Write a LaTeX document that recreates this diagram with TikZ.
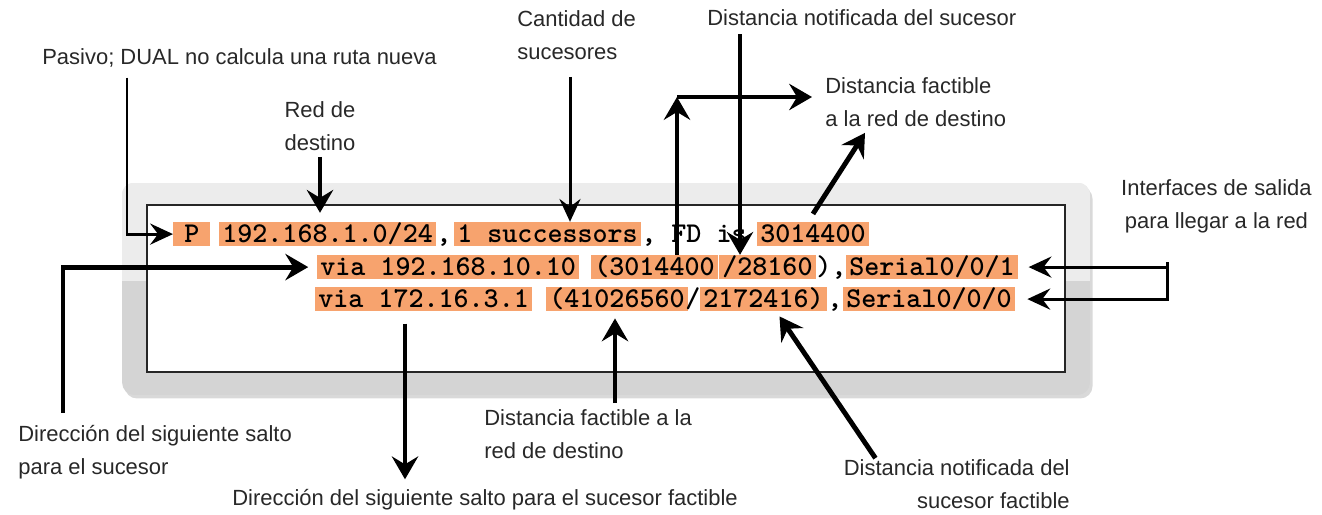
\documentclass[tikz,border=0pt]{standalone}
\usepackage{fontspec}
\setmainfont{Liberation Sans}
\definecolor{hlorange}{RGB}{247,163,110}
\definecolor{panelgray}{RGB}{212,212,212}
\definecolor{panellight}{RGB}{236,236,236}
\definecolor{labelgray}{RGB}{40,40,40}
\usetikzlibrary{arrows.meta, positioning, calc, shadows}

\begin{document}
\begin{tikzpicture}[x=0.02cm, y=-0.02cm,
  lbl/.style={font=\fontsize{12.5}{18.7}\selectfont, text=labelgray, inner sep=0pt},
  code/.style={font=\ttfamily\bfseries\fontsize{16.3}{18}\selectfont, anchor=base west, inner xsep=0pt, inner ysep=0pt, text height=11.3pt, text depth=2.3pt},
  hl/.style={code, fill=hlorange, inner xsep=1.7pt},
  bigarr/.style={line width=2.8pt, -{Stealth[length=13pt, width=15pt, inset=4.5pt]}},
  thinarr/.style={line width=1.7pt, -{Stealth[length=13pt, width=12pt, inset=4.5pt]}}]
  \useasboundingbox (0,0) rectangle (1322,514);

  % Router panel
  \node[fill=panelgray, rounded corners=7pt, minimum width=19.36cm, minimum height=4.24cm,
        drop shadow={opacity=0.3, shadow xshift=1.5pt, shadow yshift=-2pt}] (panel) at (606,289) {};
  \begin{scope}
    \clip[rounded corners=7pt] (panel.north west) rectangle (panel.south east);
    \fill[panellight] (panel.north west) rectangle ($(panel.east)+(0,-8)$);
  \end{scope}
  \node[draw=black!85, line width=1.1pt, fill=white, minimum width=18.36cm, minimum height=3.34cm] (screen) at (606,288.5) {};

  % Line 1
  \node[hl, minimum width=21pt] (tP) at (173,242) {P};
  \node[hl] (tnet) at (219,242) {192.168.1.0/24};
  \node[code] (tc1) at (436,242) {,};
  \node[hl] (tsucc) at (454,242) {1 successors};
  \node[code] (tfd) at (641,242) {, FD is};
  \node[hl] (tfdval) at (757,242) {3014400};

  % Line 2
  \node[hl] (tvia1) at (317,275) {via 192.168.10.10};
  \node[hl] (tfd1) at (591,275) {(3014400};
  \node[hl] (trd1) at (719,275) {/28160};
  \node[code] (tcp1) at (816,275) {),};
  \node[hl] (tser1) at (846,275) {Serial0/0/1};

  % Line 3
  \node[hl] (tvia2) at (315,307) {via 172.16.3.1};
  \node[hl] (tfd2) at (546,307) {(41026560};
  \node[code] (tsl) at (685,307) {/};
  \node[hl] (trd2) at (700,307) {2172416)};
  \node[code] (tc3) at (827,307) {,};
  \node[hl] (tser2) at (843,307) {Serial0/0/0};

  % Labels
  \node[lbl, anchor=west] (pasivo) at (42,58) {Pasivo; DUAL no calcula una ruta nueva};
  \node[lbl, align=center] (reddest) at (320,126) {Red de\\destino};
  \node[lbl, align=left, anchor=west] (cantidad) at (517,35) {Cantidad de\\sucesores};
  \node[lbl, anchor=west] (distnot) at (707,18) {Distancia notificada del sucesor};
  \node[lbl, align=left, anchor=west] (distfact) at (825,102) {Distancia factible\\a la red de destino};
  \node[lbl, align=center, anchor=east] (interf) at (1312,206) {Interfaces de salida\\para llegar a la red};
  \node[lbl, align=left, anchor=west] (dirsuc) at (18,452) {Dirección del siguiente salto\\para el sucesor};
  \node[lbl, anchor=west] (dirfact) at (232,500) {Dirección del siguiente salto para el sucesor factible};
  \node[lbl, align=left, anchor=west] (distfact2) at (484,434) {Distancia factible a la\\red de destino};
  \node[lbl, align=right, anchor=east] (distnotfact) at (1070,484) {Distancia notificada del\\sucesor factible};

  % Arrows
  \draw[thinarr] ($(pasivo.south west)+(85,10)$) |- (tP.west);
  \draw[bigarr] ($(reddest.south)+(0,6)$) coordinate (c0) -- ($(c0 |- tnet.north)+(0,-9)$);
  \draw[thinarr] ($(cantidad.south west)+(53,17)$) coordinate (c1) -- (c1 |- tsucc.north);
  \draw[bigarr] ($(distnot.south west)+(33,8)$) coordinate (c2) -- (c2 |- trd1.north);
  \coordinate (fdcorner) at (677,97);
  \draw[bigarr] (fdcorner |- tfd1.north) -- (fdcorner);
  \draw[bigarr] (fdcorner) -- ($(fdcorner -| distfact.west)+(-13,0)$);
  \draw[bigarr] ([yshift=4.5pt]tfdval.north) -- ($(distfact.south west)+(40,6)$);
  \coordinate (ifork) at (1167,262);
  \draw[thinarr, shorten >=6pt] (ifork) |- (tser1.east);
  \draw[thinarr, shorten >=7pt] (ifork) |- (tser2.east);
  \draw[bigarr, shorten >=5pt] ($(dirsuc.north west)+(45,-12)$) |- (tvia1.west);
  \coordinate (c3) at ($(dirfact.north west)+(173,-10)$);
  \draw[bigarr, shorten <=7pt] (c3 |- tvia2.south) -- (c3);
  \draw[bigarr, shorten >=4pt] ($(distfact2.north west)+(131,-6)$) coordinate (c4) -- (c4 |- tfd2.south);
  \draw[bigarr] ($(distnotfact.north west)+(32,-1)$) -- ($(trd2.south)+(16,5)$);
\end{tikzpicture}
\end{document}
